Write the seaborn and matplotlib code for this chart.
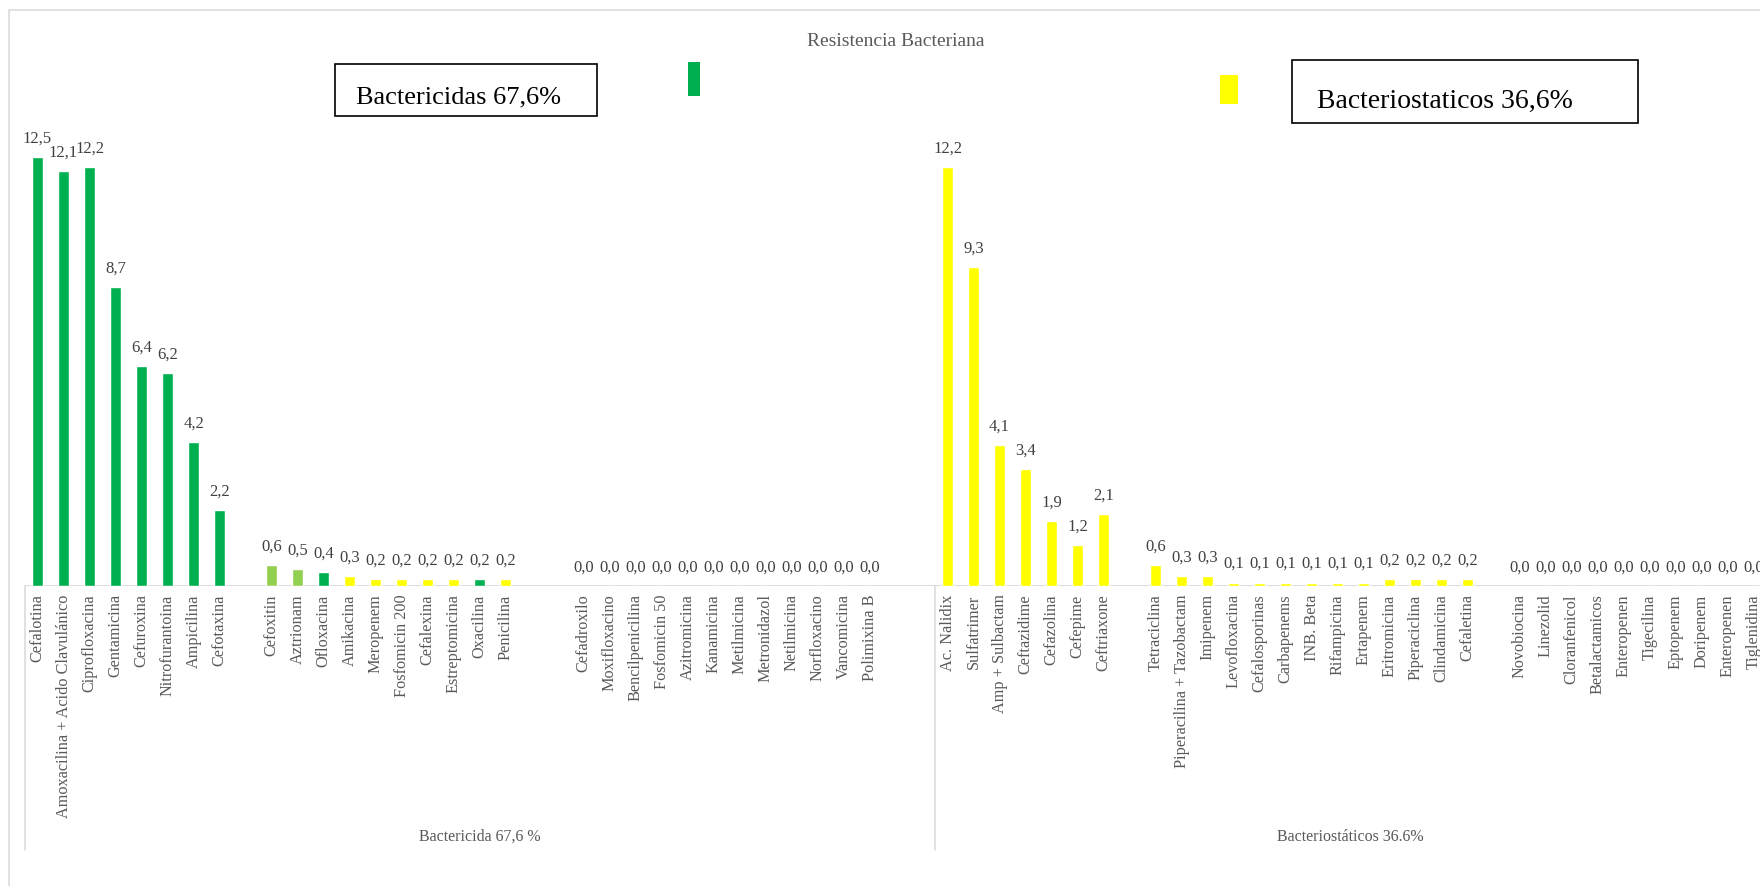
import matplotlib
matplotlib.use("Agg")
import matplotlib.pyplot as plt
from matplotlib.patches import Rectangle
from matplotlib.transforms import blended_transform_factory
import pandas as pd
import seaborn as sns

# ---- Datos: porcentaje de resistencia por antibiótico ----
grupo1_nombres = ["Cefalotina", "Amoxacilina + Acido Clavulánico", "Ciprofloxacina",
                  "Gentamicina", "Cefuroxina", "Nitrofurantoina", "Ampicilina", "Cefotaxina"]
grupo1_valores = [12.5, 12.1, 12.2, 8.7, 6.4, 6.2, 4.2, 2.2]
grupo1_colores = ["verde", "verde", "verde", "verde", "verde", "verde", "verde", "verde"]

grupo2_nombres = ["Cefoxitin", "Aztrionam", "Ofloxacina", "Amikacina", "Meropenem",
                  "Fosfomicin 200", "Cefalexina", "Estreptomicina", "Oxacilina", "Penicilina"]
grupo2_valores = [0.6, 0.5, 0.4, 0.3, 0.2, 0.2, 0.2, 0.2, 0.2, 0.2]
grupo2_colores = ["verde claro", "verde claro", "verde", "amarillo", "amarillo",
                  "amarillo", "amarillo", "amarillo", "verde", "amarillo"]

grupo3_nombres = ["Cefadroxilo", "Moxifloxacino", "Bencilpenicilina", "Fosfomicin 50",
                  "Azitromicina", "Kanamicina", "Metilmicina", "Metronidazol",
                  "Netilmicina", "Norfloxacino", "Vancomicina", "Polimixina B"]
grupo3_valores = [0.0, 0.0, 0.0, 0.0, 0.0, 0.0, 0.0, 0.0, 0.0, 0.0, 0.0, 0.0]
grupo3_colores = ["amarillo"] * len(grupo3_nombres)

grupo4_nombres = ["Ac. Nalidix", "Sulfatrimer", "Amp + Sulbactam", "Ceftazidime",
                  "Cefazolina", "Cefepime", "Ceftriaxone"]
grupo4_valores = [12.2, 9.3, 4.1, 3.4, 1.9, 1.2, 2.1]
grupo4_colores = ["amarillo"] * len(grupo4_nombres)

grupo5_nombres = ["Tetraciclina", "Piperacilina + Tazobactam", "Imipenem", "Levofloxacina",
                  "Cefalosporinas", "Carbapenems", "INB. Beta", "Rifampicina", "Ertapenem",
                  "Eritromicina", "Piperaciclina", "Clindamicina", "Cefaletina"]
grupo5_valores = [0.6, 0.3, 0.3, 0.1, 0.1, 0.1, 0.1, 0.1, 0.1, 0.2, 0.2, 0.2, 0.2]
grupo5_colores = ["amarillo"] * len(grupo5_nombres)

grupo6_nombres = ["Novobiocina", "Linezolid", "Cloranfenicol", "Betalactamicos",
                  "Enteropenen", "Tigecilina", "Eptopenem", "Doripenem",
                  "Enteropenen", "Tiglenidina"]
grupo6_valores = [0.0, 0.0, 0.0, 0.0, 0.0, 0.0, 0.0, 0.0, 0.0, 0.0]
grupo6_colores = ["amarillo"] * len(grupo6_nombres)

categorias_principales = ["Bactericida 67,6 %", "Bacteriostáticos 36.6%"]
titulo = "Resistencia Bacteriana"
texto_caja1 = "Bactericidas 67,6%"
texto_caja2 = "Bacteriostaticos 36,6%"

paleta = {"verde": "#00B050", "verde claro": "#92D050", "amarillo": "#FFFF00"}

# ---- Posiciones en el eje con espacios vacíos entre subgrupos ----
grupos = [
    (grupo1_nombres, grupo1_valores, grupo1_colores, 1),
    (grupo2_nombres, grupo2_valores, grupo2_colores, 2),
    (grupo3_nombres, grupo3_valores, grupo3_colores, 2),
    (grupo4_nombres, grupo4_valores, grupo4_colores, 1),
    (grupo5_nombres, grupo5_valores, grupo5_colores, 1),
    (grupo6_nombres, grupo6_valores, grupo6_colores, 0),
]
filas = []
pos = 0
for nombres, valores, colores, hueco in grupos:
    for n, v, c in zip(nombres, valores, colores):
        filas.append({"pos": pos, "nombre": n, "valor": v, "color": c})
        pos += 1
    pos += hueco
df = pd.DataFrame(filas)
division = df.loc[df["nombre"] == "Ac. Nalidix", "pos"].iloc[0] - 0.5
fin = df["pos"].max() + 0.5

# ---- Figura ----
sns.set_style("white")
plt.rcParams["font.family"] = ["Liberation Serif", "DejaVu Serif"]

W, H = 1760, 886
fig = plt.figure(figsize=(W / 100, H / 100), dpi=100)

def fx(px):
    return px / W

def fy(py):
    return 1 - py / H

paso = 26.0
x0 = 37.5           # centro de la primera barra (px)
base = 586.0        # línea base (px desde arriba)
escala = 34.32      # px por unidad
tope = 100.0
izq = x0 - 0.5 * paso
ax = fig.add_axes([fx(izq), fy(base), fx(W - izq), (base - tope) / H])

sns.barplot(data=df, x="pos", y="valor", hue="color", palette=paleta,
            native_scale=True, dodge=False, width=0.42, saturation=1,
            errorbar=None, legend=False, ax=ax)

ax.set_xlim(-0.5, (W - x0) / paso)
ax.set_ylim(0, (base - tope) / escala)
for s in ax.spines.values():
    s.set_visible(False)
ax.set_yticks([])
ax.set_xlabel("")
ax.set_ylabel("")
ax.axhline(0, color="#D9D9D9", lw=1.3, zorder=0.5)

ax.set_xticks(df["pos"])
ax.set_xticklabels(df["nombre"], rotation=90, fontsize=11.7, color="#595959")
ax.tick_params(axis="x", length=0, pad=6)

# Etiquetas de valor
for _, r in df.iterrows():
    ax.annotate(f"{r['valor']:.1f}".replace(".", ","), (r["pos"], r["valor"]),
                xytext=(0, 14.5), textcoords="offset pixels",
                ha="center", va="baseline", fontsize=12, color="#404040")

# Líneas divisorias del eje de categorías
tr = blended_transform_factory(ax.transData, ax.transAxes)
y_bajo = -(850 - base) / (base - tope)
for xd in (-0.5, division):
    ax.plot([xd, xd], [0, y_bajo], color="#D9D9D9", lw=1.1, transform=tr, clip_on=False)

# Etiquetas de categorías principales
tr2 = blended_transform_factory(ax.transData, fig.transFigure)
ax.text((-0.5 + division) / 2, fy(837), categorias_principales[0], transform=tr2,
        ha="center", va="center", fontsize=11.5, color="#595959")
ax.text((division + fin) / 2, fy(837), categorias_principales[1], transform=tr2,
        ha="center", va="center", fontsize=11.5, color="#595959")

# Marco del gráfico
fig.patches.append(Rectangle((fx(8.5), -0.1), 2, fy(10) + 0.1, transform=fig.transFigure,
                             fill=False, edgecolor="#D9D9D9", lw=1.1))

# Título
fig.text(fx(896), fy(42), titulo, ha="center", va="center", fontsize=14, color="#595959")

# Cuadros de texto
def caja(x1, y1, x2, y2):
    fig.patches.append(Rectangle((fx(x1), fy(y2)), fx(x2 - x1), (y2 - y1) / H,
                                 transform=fig.transFigure, fill=False,
                                 edgecolor="black", lw=1.2))

caja(334.5, 64, 597, 115.6)
fig.text(fx(356), fy(103), texto_caja1, ha="left", va="baseline", fontsize=19, color="black")
caja(1292, 60.3, 1638, 123.3)
fig.text(fx(1317), fy(108), texto_caja2, ha="left", va="baseline", fontsize=20, color="black")

# Marcas de color
def marca(x1, y1, x2, y2, color):
    fig.patches.append(Rectangle((fx(x1), fy(y2)), fx(x2 - x1), (y2 - y1) / H,
                                 transform=fig.transFigure, facecolor=color, edgecolor="none"))

marca(688, 62, 700, 96, paleta["verde"])
marca(1220, 75, 1238, 104, paleta["amarillo"])

fig.savefig("out.png", dpi=100, facecolor="white")
